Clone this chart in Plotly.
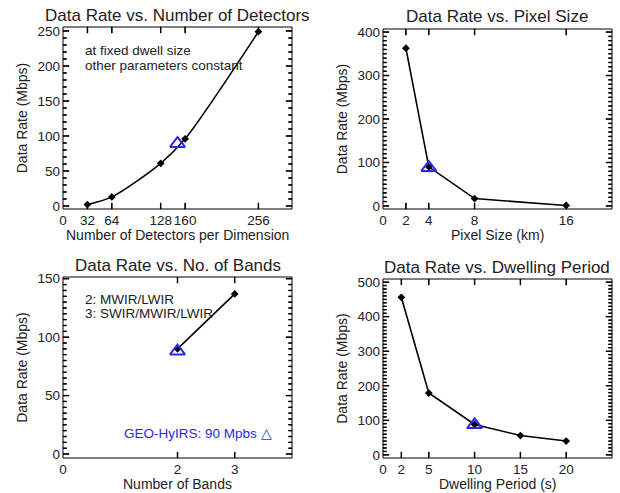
import plotly.graph_objects as go

# ---- data ----
det_x = [32, 64, 128, 160, 256]
det_y = [2, 13, 61, 96, 249]
det_ref_x = [150]
det_ref_y = [89]

pix_x = [2, 4, 8, 16]
pix_y = [363, 90, 17, 1]
pix_ref_x = [4]
pix_ref_y = [88]

band_x = [2, 3]
band_y = [90, 137]
band_ref_x = [2]
band_ref_y = [88]

dwell_x = [2, 5, 10, 15, 20]
dwell_y = [456, 179, 88, 56, 40]
dwell_ref_x = [10]
dwell_ref_y = [87]

titles = ["Data Rate vs. Number of Detectors", "Data Rate vs. Pixel Size",
          "Data Rate vs. No. of Bands", "Data Rate vs. Dwelling Period"]
xtitles = ["Number of Detectors per Dimension", "Pixel Size (km)",
           "Number of Bands", "Dwelling Period (s)"]
ytitle = "Data Rate (Mbps)"
xticks = [[0, 32, 64, 128, 160, 256], [0, 2, 4, 8, 16], [0, 2, 3], [0, 2, 5, 10, 15, 20]]

W, H = 620, 493
FONT = "Liberation Sans, Arial, sans-serif"
TXT = "#222222"
BLUE = "#2a2ae0"

def px(x):
    return x / W

def py(y):
    return 1 - y / H

panels = [
    dict(x=(63, 292), y=(27, 209), xr=[0, 300], yr=[-4.3, 255.7], dt=50, mdt=10,
         data=(det_x, det_y, det_ref_x, det_ref_y), spline=True),
    dict(x=(383, 612), y=(29, 209), xr=[0, 20], yr=[-7, 407], dt=100, mdt=10,
         data=(pix_x, pix_y, pix_ref_x, pix_ref_y), spline=False),
    dict(x=(63, 292), y=(277, 458), xr=[0, 4], yr=[-3.4, 151.5], dt=50, mdt=5,
         data=(band_x, band_y, band_ref_x, band_ref_y), spline=False),
    dict(x=(383, 612), y=(279, 458), xr=[0, 25], yr=[-9, 509], dt=100, mdt=10,
         data=(dwell_x, dwell_y, dwell_ref_x, dwell_ref_y), spline=False),
]

MAJ, MIN = 6, 3.5
fig = go.Figure()
layout = {}
annotations = []
shapes = []


def tick_rect(xa, ya, f, along_x, side, length, wpx, hpx):
    # thin stroked tick mark on an edge of the frame, in domain fractions
    d = dict(type="rect", layer="above", xref=xa + " domain", yref=ya + " domain",
             fillcolor="black", line=dict(color="black", width=1))
    if along_x:
        half = 0.25 / wpx
        lf = length / hpx
        d.update(x0=f - half, x1=f + half,
                 y0=0 if side == 0 else 1 - lf, y1=lf if side == 0 else 1)
    else:
        half = 0.25 / hpx
        lf = length / wpx
        d.update(y0=f - half, y1=f + half,
                 x0=0 if side == 0 else 1 - lf, x1=lf if side == 0 else 1)
    return d


for i, p in enumerate(panels):
    n = "" if i == 0 else str(i + 1)
    xa, ya = "x" + n, "y" + n
    xs, ys, rx, ry = p["data"]
    wpx = p["x"][1] - p["x"][0]
    hpx = p["y"][1] - p["y"][0]
    fig.add_trace(go.Scatter(
        x=xs, y=ys, xaxis=xa, yaxis=ya, mode="lines+markers",
        line=dict(color="black", width=1.6, shape="spline" if p["spline"] else "linear",
                  smoothing=0.8),
        marker=dict(symbol="diamond", size=6, color="black"),
        showlegend=False, hoverinfo="x+y"))
    fig.add_trace(go.Scatter(
        x=rx, y=ry, xaxis=xa, yaxis=ya, mode="markers",
        marker=dict(symbol="triangle-up-open", size=13, color=BLUE,
                    line=dict(width=2, color=BLUE)),
        showlegend=False, hoverinfo="x+y"))
    common = dict(showline=False, ticks="", showgrid=False, zeroline=False,
                  automargin=False,
                  tickfont=dict(family=FONT, size=13.5, color=TXT))
    layout["xaxis" + n] = dict(
        domain=[px(p["x"][0]), px(p["x"][1])], range=p["xr"], anchor=ya,
        tickmode="array", tickvals=xticks[i], tickangle=0, ticklabelstandoff=1,
        **common)
    layout["yaxis" + n] = dict(
        domain=[py(p["y"][1]), py(p["y"][0])], range=p["yr"], anchor=xa,
        dtick=p["dt"], tick0=0, ticklabelstandoff=2,
        title=dict(text=ytitle, font=dict(family=FONT, size=14, color=TXT), standoff=6),
        **common)

    # frame box
    shapes.append(dict(type="rect", xref=xa + " domain", yref=ya + " domain",
                       x0=0, x1=1, y0=0, y1=1, layer="above",
                       line=dict(color="black", width=1)))
    # x ticks (bottom and top)
    for v in xticks[i]:
        if p["xr"][0] < v < p["xr"][1]:
            f = (v - p["xr"][0]) / (p["xr"][1] - p["xr"][0])
            shapes.append(tick_rect(xa, ya, f, True, 0, MAJ, wpx, hpx))
            shapes.append(tick_rect(xa, ya, f, True, 1, MAJ, wpx, hpx))
    # y ticks (left and right), major and minor
    k = 0
    while k * p["mdt"] <= p["yr"][1]:
        v = k * p["mdt"]
        ln = MAJ if v % p["dt"] == 0 else MIN
        f = (v - p["yr"][0]) / (p["yr"][1] - p["yr"][0])
        shapes.append(tick_rect(xa, ya, f, False, 0, ln, wpx, hpx))
        shapes.append(tick_rect(xa, ya, f, False, 1, ln, wpx, hpx))
        k += 1

    annotations.append(dict(
        text=titles[i], xref="paper", yref="paper",
        x=px((p["x"][0] + p["x"][1]) / 2), y=py(p["y"][0] - 12),
        xanchor="center", yanchor="middle", showarrow=False,
        font=dict(family=FONT, size=17, color=TXT)))
    annotations.append(dict(
        text=xtitles[i], xref="paper", yref="paper",
        x=px((p["x"][0] + p["x"][1]) / 2), y=py(p["y"][1] + 26),
        xanchor="center", yanchor="middle", showarrow=False,
        font=dict(family=FONT, size=14, color=TXT)))

notes = [
    ("at fixed dwell size", 83, 51, "left", TXT),
    ("other parameters constant", 83, 65, "left", TXT),
    ("2: MWIR/LWIR", 83, 299, "left", TXT),
    ("3: SWIR/MWIR/LWIR", 83, 313, "left", TXT),
    ("GEO-HyIRS: 90 Mpbs \u25B3", 274, 433, "right", BLUE),
]
for text, nx, ny, anc, col in notes:
    annotations.append(dict(
        text=text, xref="paper", yref="paper", x=px(nx), y=py(ny),
        xanchor=anc, yanchor="middle", showarrow=False,
        font=dict(family=FONT, size=13.5, color=col)))

fig.update_layout(
    width=W, height=H, margin=dict(l=0, r=0, t=0, b=0),
    paper_bgcolor="white", plot_bgcolor="white",
    annotations=annotations, shapes=shapes, **layout)

fig.write_html("out.html", config={"displayModeBar": False},
               post_script="document.body.style.margin='0';")
